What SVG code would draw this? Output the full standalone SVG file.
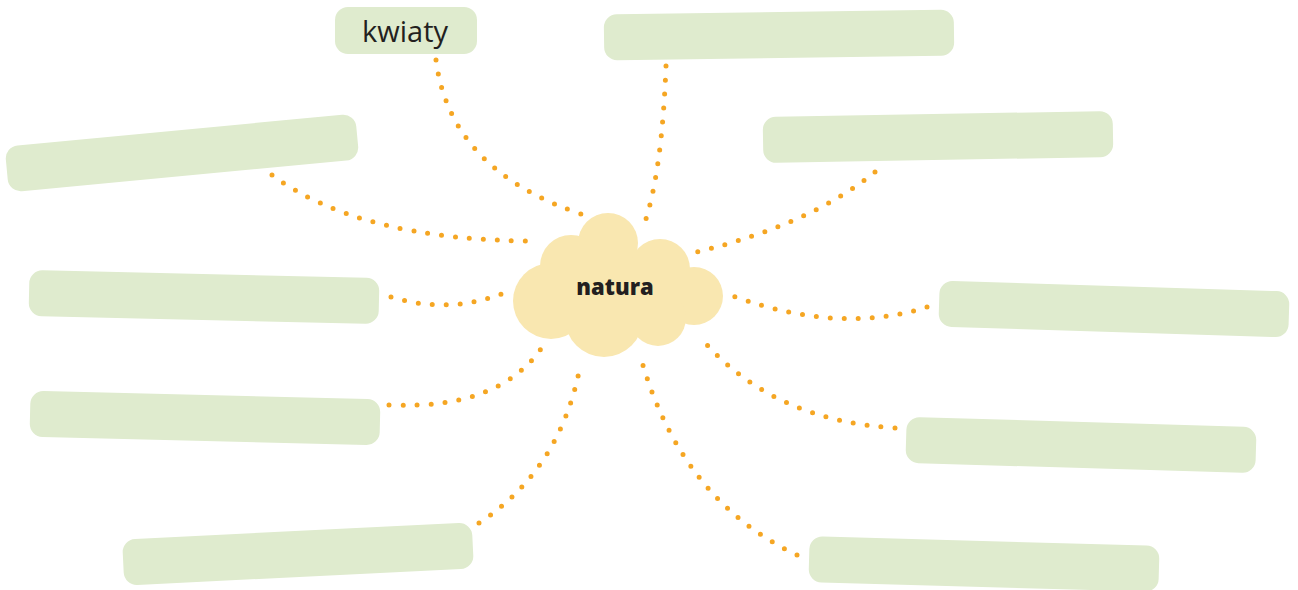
<svg xmlns="http://www.w3.org/2000/svg" width="1298" height="590" viewBox="0 0 1298 590">
<style>
.box{fill:#DFEBCE}
.cl{fill:#F9E7B0}
.dot{fill:none;stroke:#F5A623;stroke-width:5;stroke-linecap:round;stroke-dasharray:0 14}
.lbl{font-family:"Open Sans","Noto Sans",sans-serif;font-size:29px;fill:#231F20}
.ctr{font-family:"Open Sans","Noto Sans",sans-serif;font-size:22px;font-weight:800;fill:#231F20}
</style>
<rect width="1298" height="590" fill="#fff"/>
<g id="connectors">
<path class="dot" d="M436,60 Q450,170 581,214"/>
<path class="dot" d="M666,66 Q662,170 645,222"/>
<path class="dot" d="M875,172 Q810,225 693,253"/>
<path class="dot" d="M272,175 Q360,240 532,241"/>
<path class="dot" d="M391,297 Q450,315 507,292"/>
<path class="dot" d="M389,405 Q500,410 543,346"/>
<path class="dot" d="M479,523 Q560,470 580,367"/>
<path class="dot" d="M797,555 Q680,500 640,355"/>
<path class="dot" d="M895,428 Q770,420 700,337"/>
<path class="dot" d="M927,307 Q840,335 733,296"/>
</g>
<g id="center">
<circle class="cl" cx="608" cy="243" r="30"/>
<circle class="cl" cx="571" cy="266" r="31"/>
<circle class="cl" cx="551" cy="301" r="38"/>
<circle class="cl" cx="604" cy="318" r="39"/>
<circle class="cl" cx="660" cy="269" r="30"/>
<circle class="cl" cx="694" cy="296" r="29"/>
<circle class="cl" cx="658" cy="318" r="28"/>
<rect class="cl" x="560" y="260" width="120" height="60"/>
<text class="ctr" x="615" y="295" text-anchor="middle">natura</text>
</g>
<g id="n-kwiaty">
<rect class="box" x="335" y="7" width="142" height="47" rx="13"/>
<text class="lbl" x="405" y="42" text-anchor="middle">kwiaty</text>
</g>
<g id="n-top"><rect class="box" x="-175" y="-23" width="350" height="46" rx="13" transform="translate(779,35) rotate(-0.8)"/></g>
<g id="n-topright"><rect class="box" x="-175" y="-23" width="350" height="46" rx="13" transform="translate(938,137) rotate(-1)"/></g>
<g id="n-upperleft"><rect class="box" x="-176" y="-23" width="352" height="46" rx="13" transform="translate(182,153) rotate(-5.4)"/></g>
<g id="n-leftmid"><rect class="box" x="-175" y="-23" width="350" height="46" rx="13" transform="translate(204,297) rotate(1.3)"/></g>
<g id="n-leftlow"><rect class="box" x="-175" y="-23" width="350" height="46" rx="13" transform="translate(205,418) rotate(1.4)"/></g>
<g id="n-bottomleft"><rect class="box" x="-175" y="-23" width="350" height="46" rx="13" transform="translate(298,554) rotate(-2.8)"/></g>
<g id="n-rightmid"><rect class="box" x="-175" y="-23" width="350" height="46" rx="13" transform="translate(1114,309) rotate(1.8)"/></g>
<g id="n-rightlow"><rect class="box" x="-175" y="-23" width="350" height="46" rx="13" transform="translate(1081,445) rotate(1.7)"/></g>
<g id="n-bottomright"><rect class="box" x="-175" y="-23" width="350" height="46" rx="13" transform="translate(984,564) rotate(1.6)"/></g>
</svg>
